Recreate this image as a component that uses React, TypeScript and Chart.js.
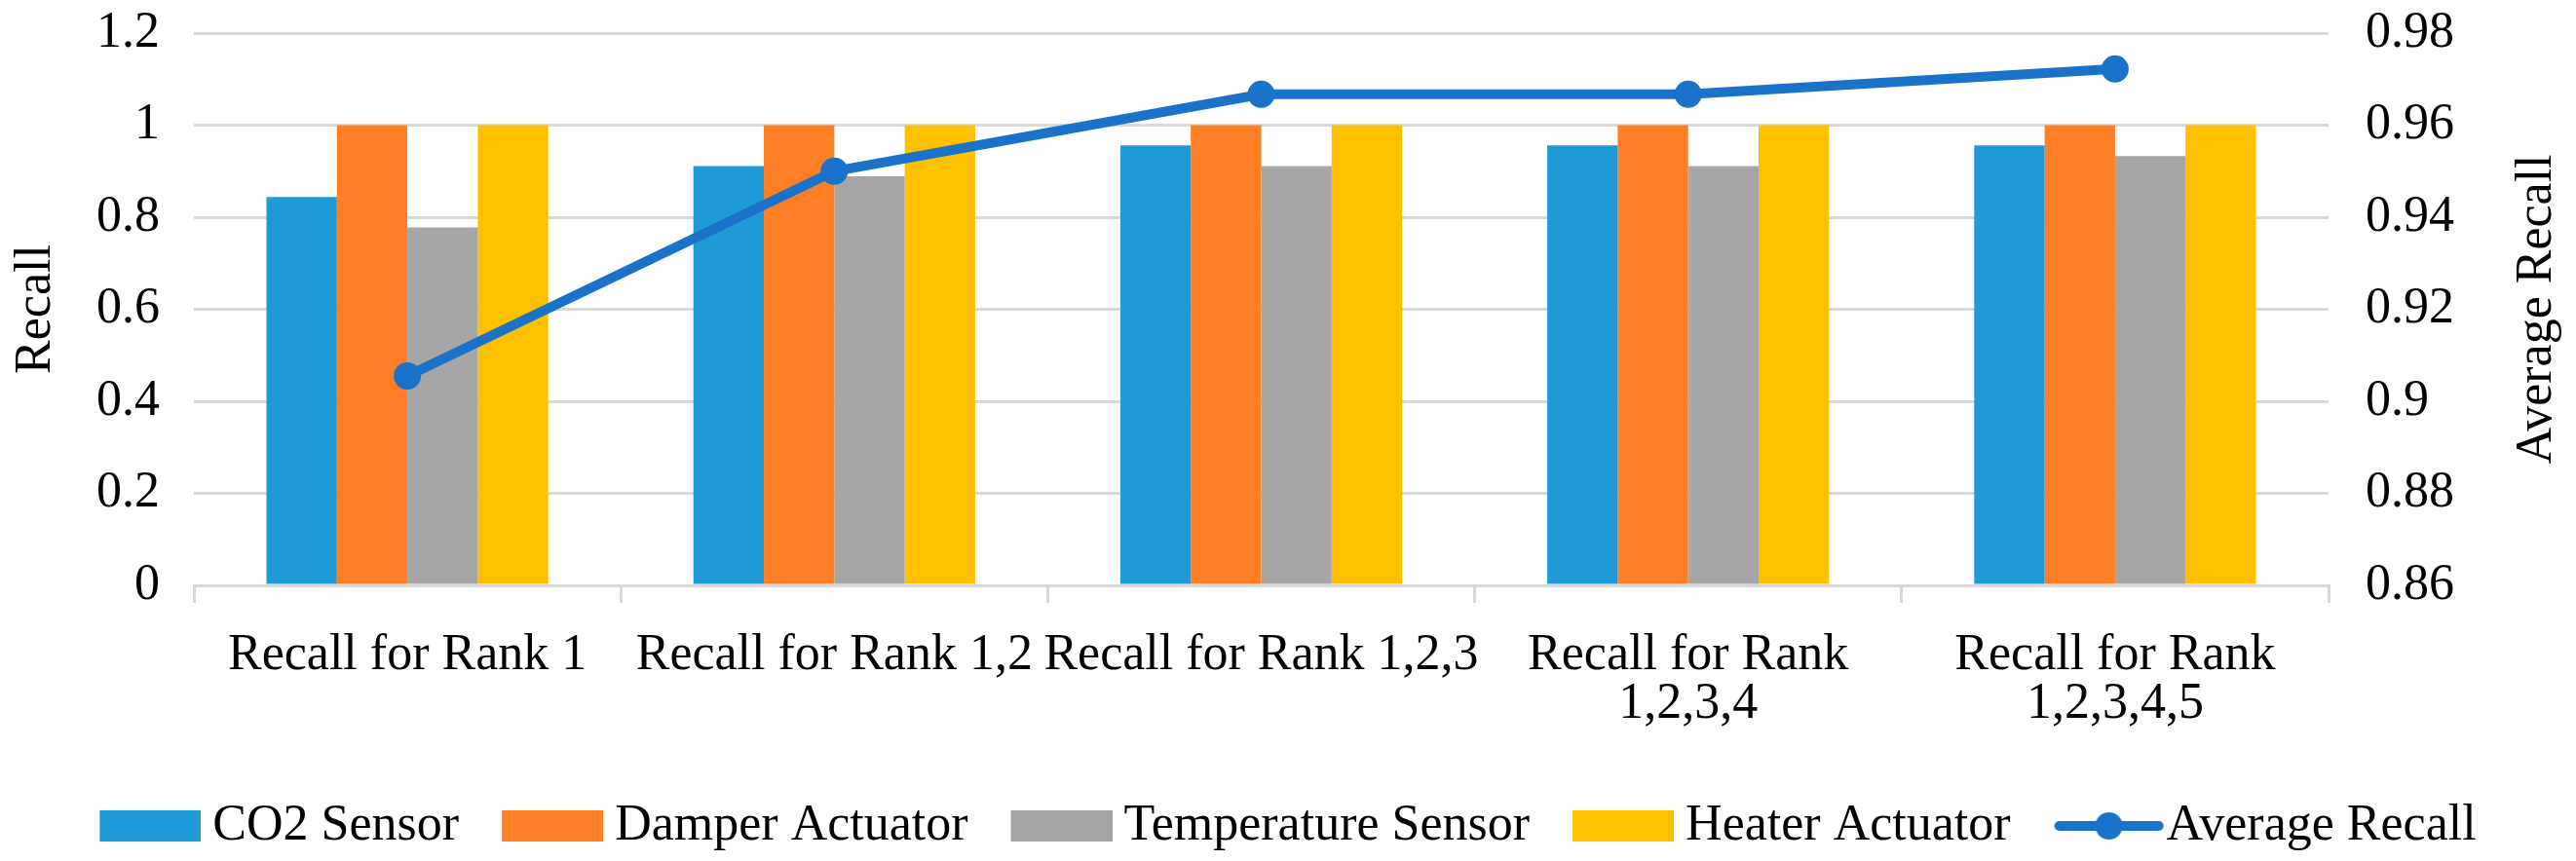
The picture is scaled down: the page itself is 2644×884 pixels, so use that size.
import React, { useEffect, useRef } from 'react';
import { Chart, registerables } from 'chart.js';

Chart.register(...registerables);

const categories: (string | string[])[] = [
  'Recall for Rank 1',
  'Recall for Rank 1,2',
  'Recall for Rank 1,2,3',
  ['Recall for Rank', '1,2,3,4'],
  ['Recall for Rank', '1,2,3,4,5'],
];
const co2Sensor = [0.844, 0.911, 0.956, 0.956, 0.956];
const damperActuator = [1, 1, 1, 1, 1];
const temperatureSensor = [0.778, 0.889, 0.911, 0.911, 0.933];
const heaterActuator = [1, 1, 1, 1, 1];
const averageRecall = [0.9055, 0.95, 0.9667, 0.9667, 0.9722];

const FONT = "'Liberation Serif', 'Times New Roman', serif";
const FS = 52;
const LINE_COLOR = '#1A73C9';
const GRID = '#D9D9D9';
const LEG_BOX = 90; // legend box slot width used by chart.js

function boxIcon(color: string) {
  const c = document.createElement('canvas');
  c.width = 118;
  c.height = 32;
  const g = c.getContext('2d')!;
  g.fillStyle = color;
  g.fillRect(14, 0, 104, 32);
  return c;
}

function lineIcon(color: string) {
  const c = document.createElement('canvas');
  c.width = 138;
  c.height = 32;
  const g = c.getContext('2d')!;
  g.strokeStyle = color;
  g.lineWidth = 10;
  g.lineCap = 'round';
  g.beginPath();
  g.moveTo(30, 16);
  g.lineTo(132, 16);
  g.stroke();
  g.fillStyle = color;
  g.beginPath();
  g.arc(81, 16, 14, 0, Math.PI * 2);
  g.fill();
  return c;
}

export default function App() {
  const ref = useRef<HTMLCanvasElement>(null);
  useEffect(() => {
    document.body.style.margin = '0';

    const titles = {
      id: 'axisTitles',
      afterDraw(chart: any) {
        const { ctx, chartArea } = chart;
        const cy = (chartArea.top + chartArea.bottom) / 2;
        ctx.save();
        ctx.font = `${FS}px ${FONT}`;
        ctx.fillStyle = '#000';
        ctx.textAlign = 'center';
        ctx.textBaseline = 'middle';
        const items: [number, string][] = [
          [chart.scales.y.left + 37, 'Recall'],
          [chart.scales.y1.right - 40, 'Average Recall'],
        ];
        items.forEach(([x, t]) => {
          ctx.save();
          ctx.translate(x, cy);
          ctx.rotate(-Math.PI / 2);
          ctx.fillText(t, 0, 0);
          ctx.restore();
        });
        ctx.restore();
      },
    };

    const barCommon = { type: 'bar' as const, borderWidth: 0, categoryPercentage: 0.66, barPercentage: 1.0, order: 2, yAxisID: 'y' };
    const chart = new Chart(ref.current!, {
      type: 'bar',
      data: {
        labels: categories as any,
        datasets: [
          { ...barCommon, label: 'CO2 Sensor', data: co2Sensor, backgroundColor: '#1E9BD7' },
          { ...barCommon, label: 'Damper Actuator', data: damperActuator, backgroundColor: '#FF7F27' },
          { ...barCommon, label: 'Temperature Sensor', data: temperatureSensor, backgroundColor: '#A6A6A6' },
          { ...barCommon, label: 'Heater Actuator', data: heaterActuator, backgroundColor: '#FFC000' },
          {
            type: 'line' as const,
            label: 'Average Recall',
            data: averageRecall,
            yAxisID: 'y1',
            order: 1,
            borderColor: LINE_COLOR,
            backgroundColor: LINE_COLOR,
            borderWidth: 10,
            tension: 0,
            pointRadius: 14,
            pointBorderWidth: 0,
            pointBackgroundColor: LINE_COLOR,
          } as any,
        ],
      },
      options: {
        responsive: false,
        animation: false,
        layout: { padding: { top: 34, left: 0, right: 0, bottom: 0 } },
        plugins: {
          tooltip: { enabled: false },
          legend: {
            position: 'bottom',
            labels: {
              usePointStyle: true,
              pointStyleWidth: LEG_BOX,
              boxWidth: LEG_BOX,
              boxHeight: 32,
              padding: 44,
              color: '#000',
              font: { family: FONT, size: FS },
              generateLabels: (c: any) =>
                c.data.datasets.map((ds: any, i: number) => ({
                  text: ds.label,
                  fillStyle: ds.backgroundColor,
                  strokeStyle: ds.backgroundColor,
                  lineWidth: 0,
                  pointStyle: ds.type === 'line' ? lineIcon(ds.borderColor) : boxIcon(ds.backgroundColor),
                  hidden: false,
                  datasetIndex: i,
                  fontColor: '#000',
                })),
            },
          },
        },
        scales: {
          x: {
            grid: { offset: true, drawOnChartArea: false, drawTicks: true, tickLength: 18, color: GRID, lineWidth: 3 },
            border: { display: true, color: GRID, width: 3 },
            ticks: {
              color: '#000',
              font: { family: FONT, size: FS, lineHeight: 0.95 },
              padding: 30,
              autoSkip: false,
              maxRotation: 0,
              minRotation: 0,
            },
            afterFit: (s: any) => {
              s.height = 177;
            },
          },
          y: {
            position: 'left',
            min: 0,
            max: 1.2,
            ticks: {
              stepSize: 0.2,
              padding: 35,
              color: '#000',
              font: { family: FONT, size: FS },
              callback: (v: any) => String(Number(Number(v).toFixed(1))),
            },
            grid: { color: GRID, lineWidth: 3, drawTicks: false },
            border: { display: false },
            afterFit: (s: any) => {
              s.width = 199;
              s.paddingTop = 0;
              s.paddingBottom = 0;
            },
          },
          y1: {
            position: 'right',
            min: 0.86,
            max: 0.98,
            ticks: {
              stepSize: 0.02,
              padding: 38,
              color: '#000',
              font: { family: FONT, size: FS },
              callback: (v: any) => String(Number(Number(v).toFixed(2))),
            },
            grid: { drawOnChartArea: false, drawTicks: false },
            border: { display: false },
            afterFit: (s: any) => {
              s.width = 254;
              s.paddingTop = 0;
              s.paddingBottom = 0;
            },
          },
        },
      },
      plugins: [titles],
    });
    return () => chart.destroy();
  }, []);
  return (
    <div style={{ position: 'absolute', left: 0, top: 0, width: 2644, height: 884, background: '#fff' }}>
      <canvas ref={ref} width={2644} height={884} style={{ width: 2644, height: 884, display: 'block' }} />
    </div>
  );
}
